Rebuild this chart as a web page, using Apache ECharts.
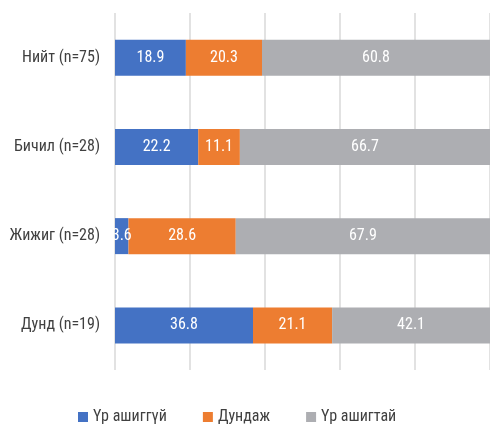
<!DOCTYPE html>
<html><head><meta charset="utf-8">
<script src="https://cdn.jsdelivr.net/npm/echarts@6/dist/echarts.min.js"></script>
<style>html,body{margin:0;padding:0;background:#fff}#c{width:490px;height:425px}</style>
</head><body><div id="c"></div>
<script>
const categories = ['Нийт (n=75)', 'Бичил (n=28)', 'Жижиг (n=28)', 'Дунд (n=19)'];
const seriesNames = ['Үр ашиггүй', 'Дундаж', 'Үр ашигтай'];
const ineffective = [18.9, 22.2, 3.6, 36.8];
const average = [20.3, 11.1, 28.6, 21.1];
const effective = [60.8, 66.7, 67.9, 42.1];
const colors = ['#4472C4', '#ED7D31', '#ADAEB2'];
const FF = "'Roboto Condensed','Liberation Sans Narrow','DejaVu Sans Condensed',Roboto,sans-serif";

const chart = echarts.init(document.getElementById('c'), null, {renderer: 'canvas'});
const mk = (name, data, color) => ({
  name, type: 'bar', stack: 'total', data, barWidth: 36,
  itemStyle: {color},
  label: {show: true, position: 'inside', color: '#fff', fontSize: 16, fontFamily: FF,
          formatter: p => p.value.toFixed(1)}
});
chart.setOption({
  animation: false,
  textStyle: {fontFamily: FF},
  grid: {left: 115, top: 13, width: 377, height: 357, containLabel: false},
  legend: {
    data: seriesNames, left: 73, top: 404, itemWidth: 10, itemHeight: 10, icon: 'rect', itemGap: 36,
    textStyle: {fontSize: 16, color: '#404040', fontFamily: FF}
  },
  xAxis: {
    type: 'value', min: 0, max: 100, interval: 20,
    axisLabel: {show: false}, axisLine: {show: false}, axisTick: {show: false},
    splitLine: {show: true, lineStyle: {color: '#D9D9D9', width: 1.5}}
  },
  yAxis: {
    type: 'category', data: categories, inverse: true,
    axisLine: {show: false}, axisTick: {show: false},
    axisLabel: {color: '#404040', fontSize: 16, margin: 15, fontFamily: FF}
  },
  series: [
    mk(seriesNames[0], ineffective, colors[0]),
    mk(seriesNames[1], average, colors[1]),
    mk(seriesNames[2], effective, colors[2])
  ]
});
</script></body></html>
